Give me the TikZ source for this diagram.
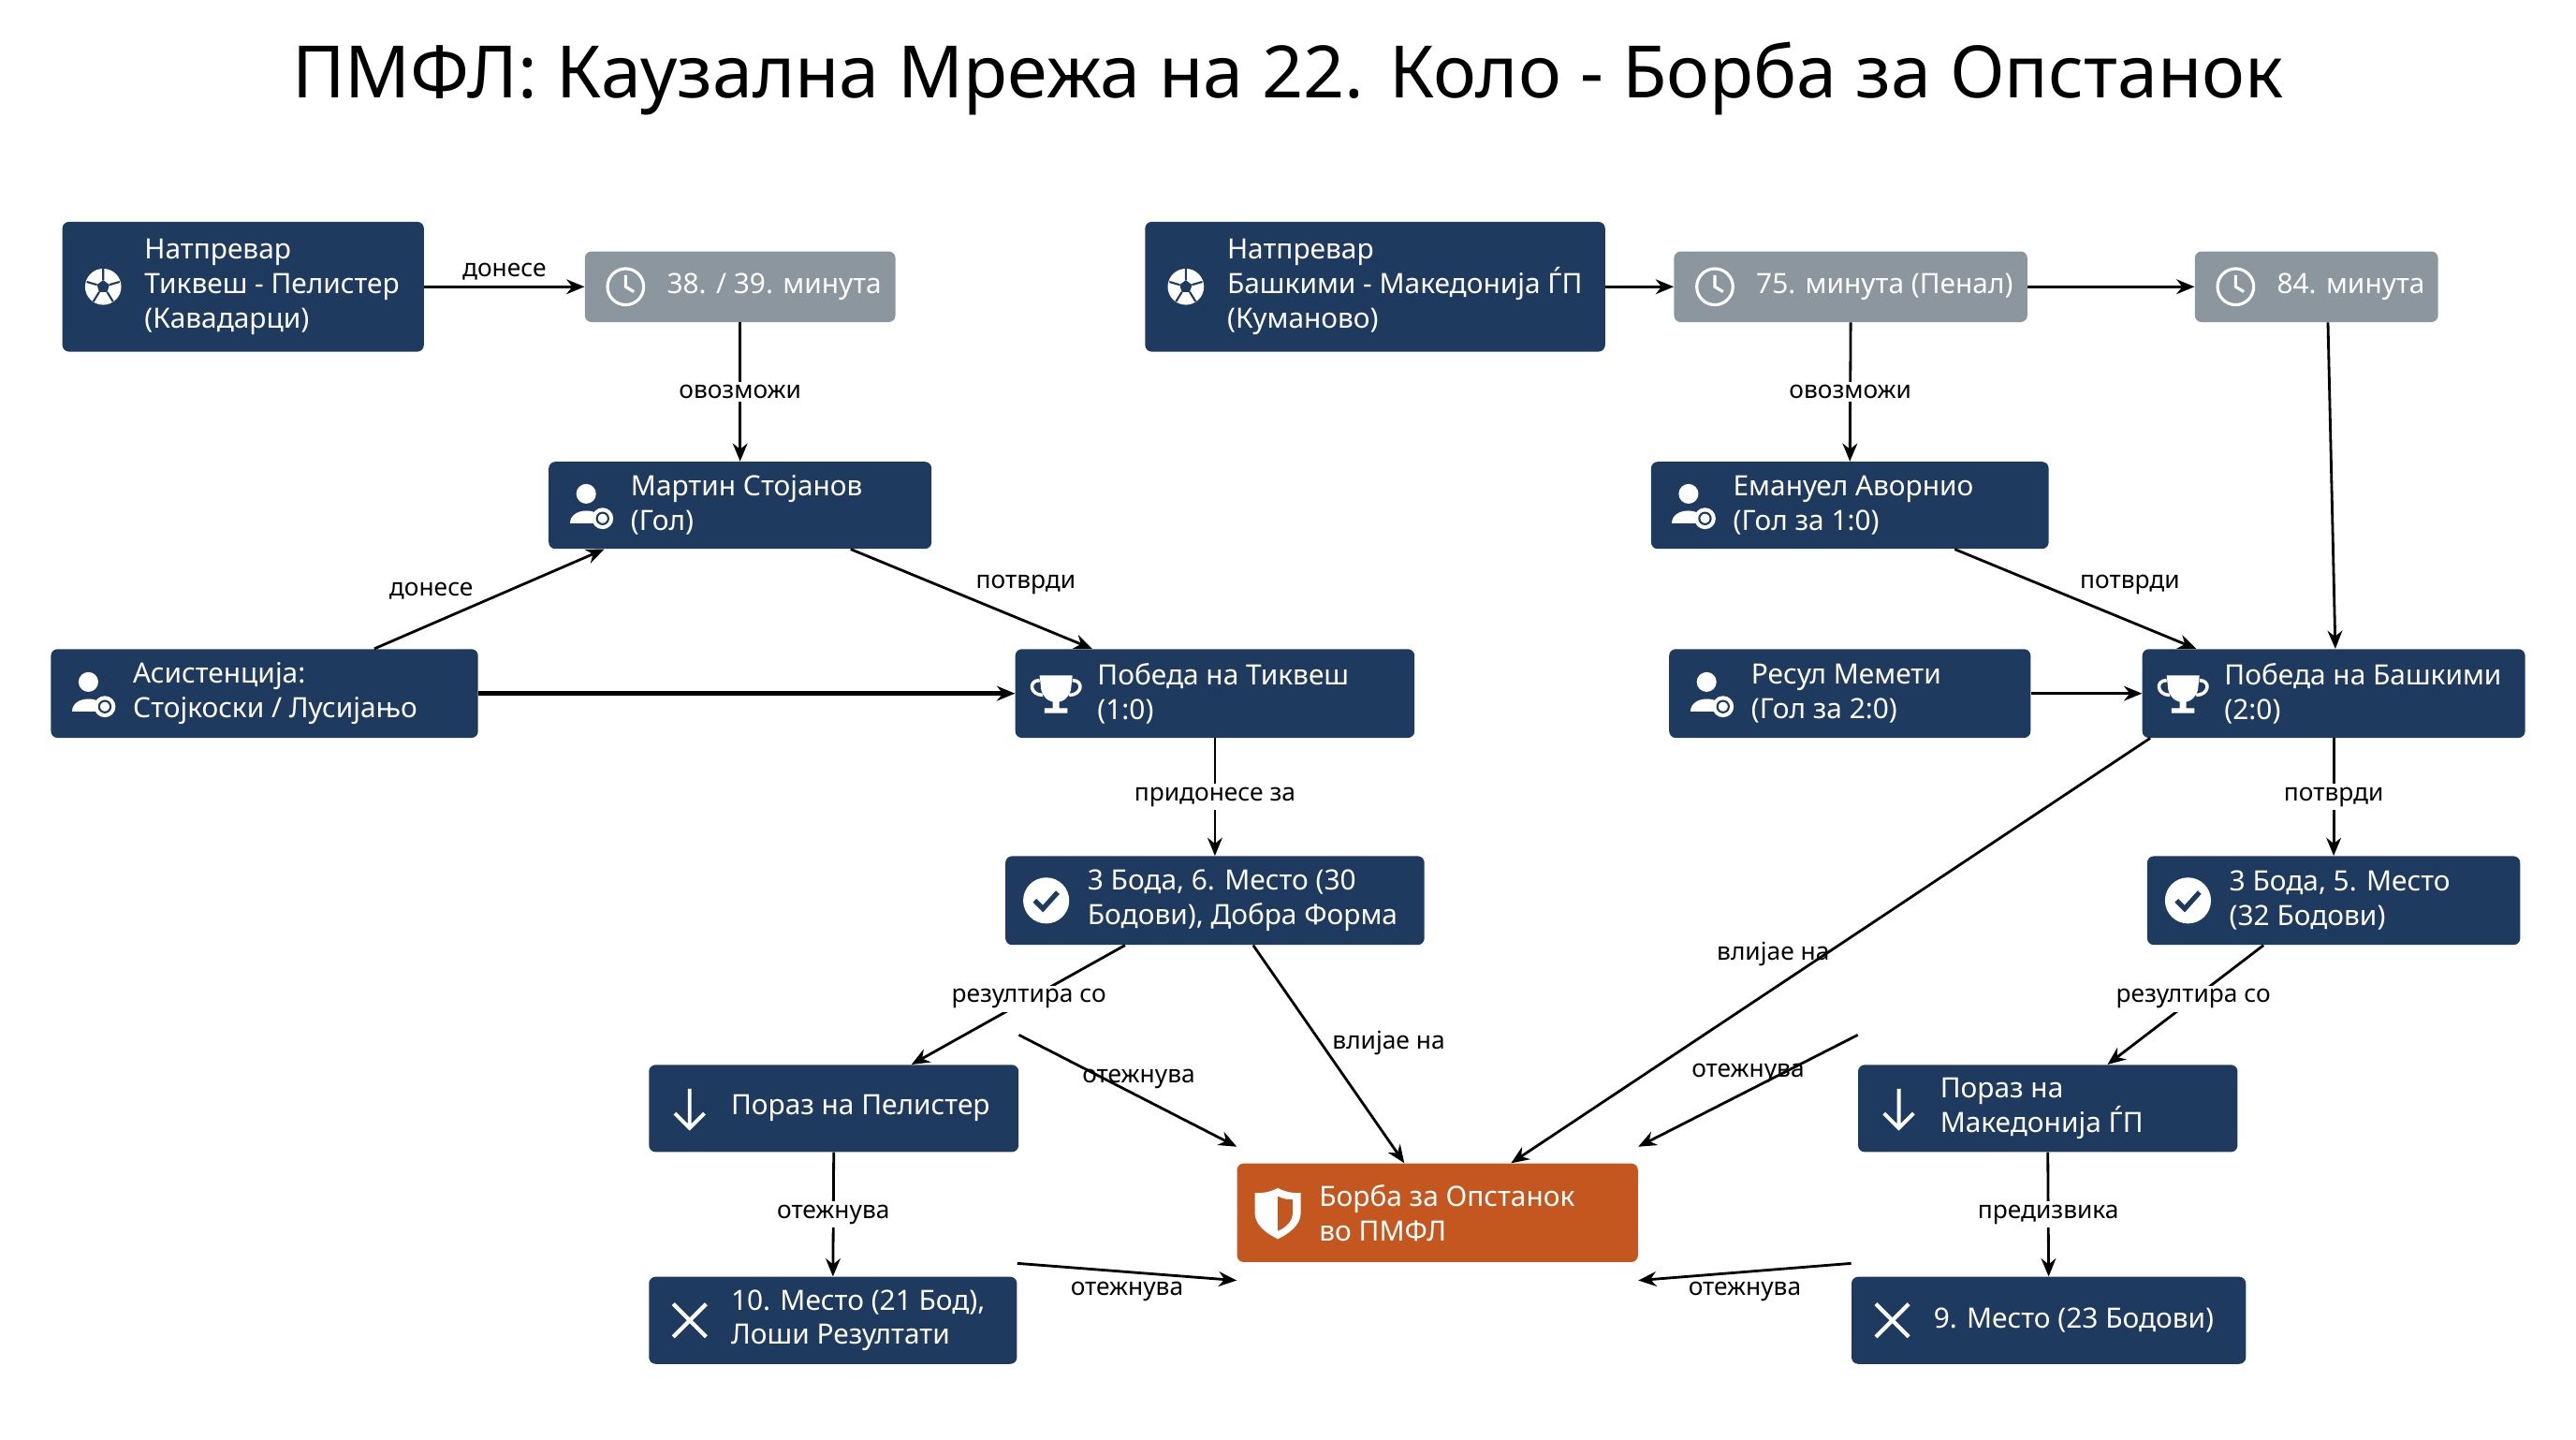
\documentclass[tikz,border=0pt]{standalone}
\usepackage{fontspec}
\setmainfont{Noto Sans}
\usetikzlibrary{arrows.meta,calc}
\definecolor{navy}{HTML}{1E3A5F}
\definecolor{gry}{HTML}{8C969E}
\definecolor{org}{HTML}{C4571F}
\tikzset{
 box/.style={rounded corners=4pt,inner sep=0pt},
 txt/.style={anchor=west,text=white,align=left,font=\fontsize{17}{21}\selectfont,inner sep=0pt},
 lab/.style={font=\fontsize{15}{18}\selectfont,fill=white,inner sep=2pt},
 ar/.style={-{Stealth[length=11pt,width=9pt]},line width=1.6pt},
 ic/.style={white,line width=1.8pt},
 pics/ball/.style={code={\fill[white](0,0)circle(11);\fill[navy](0,-4)--(3.8,-1.2)--(2.4,3.2)--(-2.4,3.2)--(-3.8,-1.2)--cycle;
   \draw[navy,line width=1.2pt](0,-4)--(0,-11)(3.8,-1.2)--(10,-3)(2.4,3.2)--(6,9)(-2.4,3.2)--(-6,9)(-3.8,-1.2)--(-10,-3);}},
 pics/clock/.style={code={\draw[ic](0,0)circle(11);\draw[ic](0,-7)--(0,0)--(5,3);}},
 pics/person/.style={code={\fill[white](-2,-7)circle(6);\fill[white](-12,11)..controls(-12,1)and(8,1)..(8,11)--cycle;\fill[white](8,8)circle(6.5);\draw[navy,line width=1.2pt](8,8)circle(3.5);}},
 pics/trophy/.style={code={\fill[white](-10,-11)--(10,-11)--(9,-2)..controls(7,4)and(3,5)..(2,5)--(2,9)--(7,9)--(7,12)--(-7,12)--(-7,9)--(-2,9)--(-2,5)..controls(-3,5)and(-7,4)..(-9,-2)--cycle;
   \draw[ic,line width=2pt](-10,-8)..controls(-17,-8)and(-16,1)..(-8,1)(10,-8)..controls(17,-8)and(16,1)..(8,1);}},
 pics/check/.style={code={\fill[white](0,0)circle(14);\draw[navy,line width=3pt](-7,0)--(-2,5)--(7,-5);}},
 pics/down/.style={code={\draw[ic,line width=2.2pt](0,-12)--(0,11)(-9,3)--(0,12)--(9,3);}},
 pics/cross/.style={code={\draw[ic,line width=2.4pt](-10,-10)--(10,10)(-10,10)--(10,-10);}},
 pics/shield/.style={code={\fill[white](0,-15)..controls(6,-12)and(10,-12)..(14,-12)--(14,0)..controls(14,8)and(6,13)..(0,16)..controls(-6,13)and(-14,8)..(-14,0)--(-14,-12)..controls(-10,-12)and(-6,-12)..cycle;
   \fill[org](0,-10)..controls(4,-8)and(7,-8)..(9,-8)--(9,0)..controls(9,5)and(5,9)..(0,11)--cycle;}}
}
% name, cx, cy, w, h, colour, icon, text
\newcommand{\bx}[8]{\node[box,fill=#6,minimum width=#4pt,minimum height=#5pt] (#1) at (#2,#3) {};
 \pic at ([xshift=25pt]#1.west) {#7};
 \node[txt] at ([xshift=50pt]#1.west) {#8};}
\begin{document}
\begin{tikzpicture}[x=1pt,y=-1pt]
\useasboundingbox (0,0) rectangle (1568,876);
\node[font=\fontsize{44}{50}\selectfont] (title) at (784,48) {ПМФЛ: Каузална Мрежа на 22. Коло - Борба за Опстанок};
\bx{n1}{148}{174.5}{220}{79}{navy}{ball}{Натпревар\\Тиквеш - Пелистер\\(Кавадарци)}
\bx{t1}{450.5}{174.5}{189}{43}{gry}{clock}{38. / 39. минута}
\bx{g1}{450.5}{307.5}{233}{53}{navy}{person}{Мартин Стојанов\\(Гол)}
\bx{a1}{161}{422}{260}{54}{navy}{person}{Асистенција:\\Стојкоски / Лусијањо}
\bx{w1}{739.5}{422}{243}{54}{navy}{trophy}{Победа на Тиквеш\\(1:0)}
\bx{p1}{739.5}{548}{255}{54}{navy}{check}{3 Бода, 6. Место (30\\Бодови), Добра Форма}
\bx{l1}{507.5}{674.5}{225}{53}{navy}{down}{Пораз на Пелистер}
\bx{x1}{507}{803.5}{224}{53}{navy}{cross}{10. Место (21 Бод),\\Лоши Резултати}
\bx{c}{875}{738}{244}{60}{org}{shield}{Борба за Опстанок\\во ПМФЛ}
\bx{n2}{837}{174.5}{280}{79}{navy}{ball}{Натпревар\\Башкими - Македонија ЃП\\(Куманово)}
\bx{t2}{1126.5}{174.5}{215}{43}{gry}{clock}{75. минута (Пенал)}
\bx{t3}{1410}{174.5}{148}{43}{gry}{clock}{84. минута}
\bx{g2}{1126}{307.5}{242}{53}{navy}{person}{Емануел Аворнио\\(Гол за 1:0)}
\bx{r2}{1126}{422}{220}{54}{navy}{person}{Ресул Мемети\\(Гол за 2:0)}
\bx{w2}{1420.5}{422}{233}{54}{navy}{trophy}{Победа на Башкими\\(2:0)}
\bx{p2}{1420.5}{548}{227}{54}{navy}{check}{3 Бода, 5. Место\\(32 Бодови)}
\bx{l2}{1246.5}{674.5}{231}{53}{navy}{down}{Пораз на\\Македонија ЃП}
\bx{x2}{1247}{803.5}{240}{53}{navy}{cross}{9. Место (23 Бодови)}
% edges
\draw[ar] (n1.east) -- node[lab,above=1pt,fill=none]{донесе} (t1.west);
\draw[ar] (t1.south) -- node[lab,pos=0.5]{овозможи} (g1.north);
\draw[ar] ([xshift=197pt]a1.north west) -- node[lab,above left,fill=none,pos=0.45]{донесе} ([xshift=34pt]g1.south west);
\draw[ar,line width=3pt] (a1.east) -- (w1.west);
\draw[ar] ([xshift=184pt]g1.south west) -- node[lab,above right,fill=none,pos=0.5]{потврди} ([xshift=47pt]w1.north west);
\draw[ar] (w1.south) -- node[lab]{придонесе за} (p1.north);
\draw[ar] ([xshift=73pt]p1.south west) -- node[lab,pos=0.45]{резултира со} ([xshift=160pt]l1.north west);
\draw[ar] ([xshift=151pt]p1.south west) -- node[lab,right=4pt,fill=none,pos=0.45]{влијае на} ([xshift=102pt]c.north west);
\draw[ar] ([yshift=18pt]l1.north east) -- node[lab,above=2pt,fill=none,pos=0.55]{отежнува} ([yshift=10pt]c.north west);
\draw[ar] (l1.south) -- node[lab]{отежнува} (x1.north);
\draw[ar] ([yshift=8pt]x1.north east) -- node[lab,below=3pt,fill=none,pos=0.5]{отежнува} ([yshift=-11pt]c.south west);
\draw[ar] (n2.east) -- (t2.west);
\draw[ar] (t2.east) -- (t3.west);
\draw[ar] (t2.south) -- node[lab]{овозможи} (g2.north);
\draw[ar] ([xshift=7pt]t3.south) -- ([xshift=1pt]w2.north);
\draw[ar] ([xshift=185pt]g2.south west) -- node[lab,above right,fill=none,pos=0.5]{потврди} ([xshift=33pt]w2.north west);
\draw[ar] (r2.east) -- (w2.west);
\draw[ar] ([xshift=5pt]w2.south west) -- node[lab,pos=0.5,xshift=-35pt,yshift=-2pt,fill=none]{влијае на} ([xshift=167pt]c.north west);
\draw[ar] (w2.south) -- node[lab]{потврди} (p2.north);
\draw[ar] ([xshift=71pt]p2.south west) -- node[lab,pos=0.45]{резултира со} ([xshift=152pt]l2.north west);
\draw[ar] ([yshift=18pt]l2.north west) -- node[lab,above=2pt,fill=none,pos=0.5]{отежнува} ([yshift=10pt]c.north east);
\draw[ar] (l2.south) -- node[lab]{предизвика} (x2.north);
\draw[ar] ([yshift=8pt]x2.north west) -- node[lab,below=3pt,fill=none,pos=0.5]{отежнува} ([yshift=-11pt]c.south east);
\end{tikzpicture}
\end{document}
